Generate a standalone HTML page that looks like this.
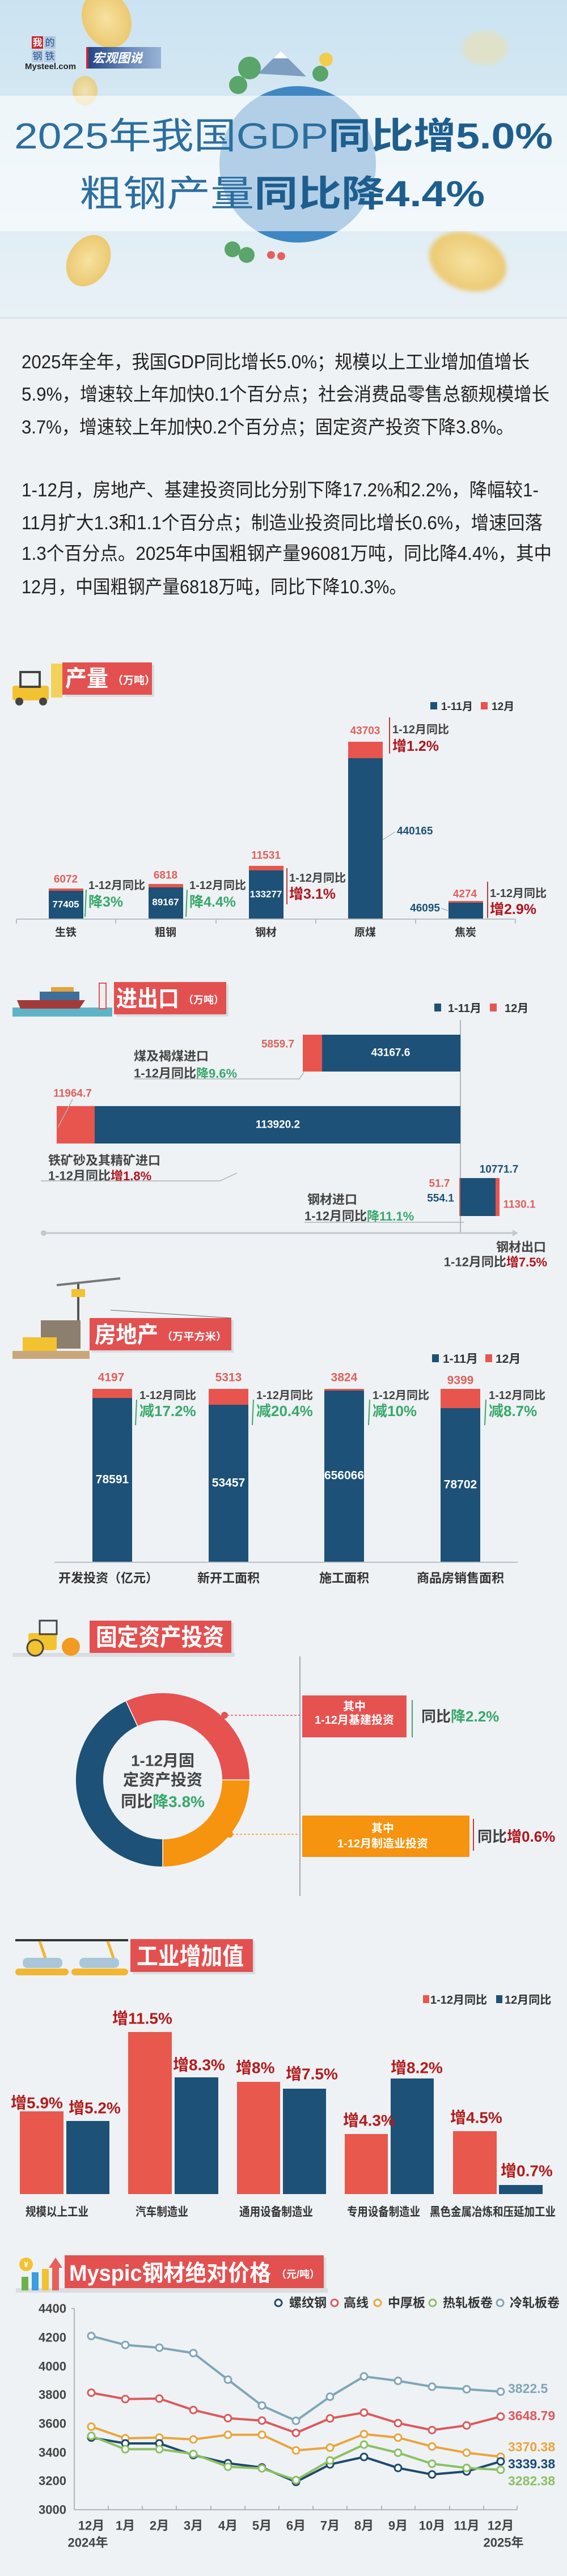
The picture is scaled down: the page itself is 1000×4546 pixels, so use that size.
<!DOCTYPE html>
<html><head><meta charset="utf-8">
<style>
html,body{margin:0;padding:0;background:#eef2f5;}
body{width:1000px;height:4546px;overflow:hidden;}
svg{display:block;font-family:"Liberation Sans","Noto Sans CJK SC",sans-serif;}
.b{font-weight:bold;}
</style></head><body>
<svg width="1000" height="4546" viewBox="0 0 1000 4546" xmlns="http://www.w3.org/2000/svg">
<defs>
<linearGradient id="sky" x1="0" y1="0" x2="0" y2="1">
<stop offset="0" stop-color="#cbe3f1"/><stop offset="1" stop-color="#e9f1f6"/></linearGradient>
<radialGradient id="coin" cx="0.5" cy="0.5" r="0.5">
<stop offset="0" stop-color="#f6e2a0"/><stop offset="1" stop-color="#ecc972"/></radialGradient>
<filter id="bl"><feGaussianBlur stdDeviation="4"/></filter>
<linearGradient id="badge" x1="0" y1="0" x2="1" y2="0"><stop offset="0" stop-color="#1d3f86"/><stop offset="1" stop-color="#5d7fb8" stop-opacity="0.5"/></linearGradient>
<marker id="m1" viewBox="-8 -8 16 16" markerWidth="16" markerHeight="16" markerUnits="userSpaceOnUse"><circle r="6" fill="#fff" stroke="#7fa6b8" stroke-width="3"/></marker>
<marker id="m2" viewBox="-8 -8 16 16" markerWidth="16" markerHeight="16" markerUnits="userSpaceOnUse"><circle r="6" fill="#fff" stroke="#dc5a5c" stroke-width="3"/></marker>
<marker id="m3" viewBox="-8 -8 16 16" markerWidth="16" markerHeight="16" markerUnits="userSpaceOnUse"><circle r="6" fill="#fff" stroke="#eaa53c" stroke-width="3"/></marker>
<marker id="m4" viewBox="-8 -8 16 16" markerWidth="16" markerHeight="16" markerUnits="userSpaceOnUse"><circle r="6" fill="#fff" stroke="#1c4a6e" stroke-width="3"/></marker>
<marker id="m5" viewBox="-8 -8 16 16" markerWidth="16" markerHeight="16" markerUnits="userSpaceOnUse"><circle r="6" fill="#fff" stroke="#8cc063" stroke-width="3"/></marker>
</defs>

<!-- HEADER -->
<rect x="0" y="0" width="1000" height="561" fill="url(#sky)"/>
<ellipse cx="188" cy="34" rx="42" ry="52" fill="url(#coin)" transform="rotate(-25 188 34)"/>
<ellipse cx="855" cy="85" rx="40" ry="30" fill="#eadfae" opacity="0.6" filter="url(#bl)"/>
<ellipse cx="150" cy="160" rx="22" ry="26" fill="url(#coin)" opacity="0.8"/>
<ellipse cx="156" cy="460" rx="36" ry="48" fill="url(#coin)" transform="rotate(30 156 460)"/>
<ellipse cx="825" cy="462" rx="70" ry="50" fill="url(#coin)" filter="url(#bl)" transform="rotate(20 825 462)"/>
<circle cx="525" cy="290" r="138" fill="#3f87c2"/>
<path d="M455 130 L495 90 L540 135 Z" fill="#7d9ec0"/>
<path d="M482 103 L495 90 L508 103 Z" fill="#fff"/>
<circle cx="440" cy="120" r="20" fill="#5aa56a"/><circle cx="420" cy="150" r="16" fill="#5aa56a"/>
<circle cx="565" cy="130" r="14" fill="#5aa56a"/><circle cx="575" cy="105" r="12" fill="#f1cd4a"/>
<circle cx="410" cy="440" r="14" fill="#5aa56a"/><circle cx="435" cy="450" r="14" fill="#5aa56a"/>
<circle cx="478" cy="450" r="7" fill="#e46060"/><circle cx="496" cy="452" r="7" fill="#e46060"/>
<rect x="0" y="169" width="1000" height="239" fill="#ffffff" opacity="0.6"/>
<rect x="56" y="64" width="20" height="22" fill="#c8282e"/><text x="66" y="81" font-size="17" fill="#fff" text-anchor="middle" class="b">我</text>
<rect x="78" y="64" width="20" height="22" fill="#2a4f8f" opacity="0.2"/><text x="88" y="81" font-size="17" fill="#2a4f8f" text-anchor="middle">的</text>
<rect x="56" y="88" width="20" height="22" fill="#2a4f8f" opacity="0.15"/><text x="66" y="105" font-size="17" fill="#2a4f8f" text-anchor="middle">钢</text>
<rect x="78" y="88" width="20" height="22" fill="#2a4f8f" opacity="0.15"/><text x="88" y="105" font-size="17" fill="#2a4f8f" text-anchor="middle">铁</text>
<text x="44" y="122" font-size="15" class="b" fill="#222">Mysteel.com</text>
<rect x="152" y="83" width="132" height="38" fill="url(#badge)"/>
<rect x="152" y="83" width="4" height="38" fill="#c8282e"/>
<text x="163" y="110" font-size="22" class="b" fill="#fff" font-style="italic">宏观图说</text>
<text x="25" y="262" font-size="64" textLength="950" lengthAdjust="spacingAndGlyphs" fill="#2c6e9f">2025年我国GDP<tspan class="b" fill="#1d5e8e">同比增5.0%</tspan></text>
<text x="140" y="364" font-size="64" textLength="715" lengthAdjust="spacingAndGlyphs" fill="#2c6e9f">粗钢产量<tspan class="b" fill="#1d5e8e">同比降4.4%</tspan></text>
<line x1="0" y1="561" x2="1000" y2="561" stroke="#d9dfe4" stroke-width="2"/>

<!-- TEXT -->
<g font-size="33" fill="#222" lengthAdjust="spacingAndGlyphs">
<text x="38" y="650" textLength="896" lengthAdjust="spacingAndGlyphs">2025年全年，我国GDP同比增长5.0%；规模以上工业增加值增长</text>
<text x="38" y="707" textLength="931" lengthAdjust="spacingAndGlyphs">5.9%，增速较上年加快0.1个百分点；社会消费品零售总额规模增长</text>
<text x="38" y="765" textLength="868" lengthAdjust="spacingAndGlyphs">3.7%，增速较上年加快0.2个百分点；固定资产投资下降3.8%。</text>
<text x="38" y="876" textLength="912" lengthAdjust="spacingAndGlyphs">1-12月，房地产、基建投资同比分别下降17.2%和2.2%，降幅较1-</text>
<text x="38" y="934" textLength="919" lengthAdjust="spacingAndGlyphs">11月扩大1.3和1.1个百分点；制造业投资同比增长0.6%，增速回落</text>
<text x="38" y="988" textLength="935" lengthAdjust="spacingAndGlyphs">1.3个百分点。2025年中国粗钢产量96081万吨，同比降4.4%，其中</text>
<text x="38" y="1047" textLength="679" lengthAdjust="spacingAndGlyphs">12月，中国粗钢产量6818万吨，同比下降10.3%。</text>
</g>

<!-- PRODUCTION -->
<rect x="114" y="1173" width="158" height="57" fill="#d8dde1"/>
<rect x="110" y="1169" width="158" height="57" fill="#e35050"/>
<rect x="90" y="1171" width="20" height="60" fill="#f2d25a"/>
<rect x="22" y="1210" width="64" height="26" fill="#f2c230" rx="4"/>
<rect x="36" y="1186" width="34" height="26" fill="none" stroke="#444" stroke-width="4"/>
<circle cx="34" cy="1238" r="7" fill="#444"/><circle cx="76" cy="1238" r="7" fill="#444"/>
<text x="115" y="1211" font-size="40" class="b" fill="#fff" textLength="76" lengthAdjust="spacingAndGlyphs">产量</text>
<text x="198" y="1207" font-size="19" class="b" fill="#fff">（万吨）</text>
<rect x="759" y="1239" width="12" height="13" fill="#1d5177"/>
<text x="778" y="1253" font-size="19" class="b" fill="#333">1-11月</text>
<rect x="848" y="1239" width="12" height="13" fill="#e8554e"/>
<text x="867" y="1253" font-size="19" class="b" fill="#333">12月</text>
<g fill="#1d5177">
<rect x="86" y="1572" width="61" height="50"/><rect x="262" y="1566" width="61" height="56"/>
<rect x="439" y="1536" width="61" height="86"/><rect x="614" y="1338" width="61" height="284"/>
<rect x="791" y="1593" width="61" height="29"/></g>
<g fill="#e8554e">
<rect x="86" y="1568" width="61" height="4"/><rect x="262" y="1560" width="61" height="6"/>
<rect x="439" y="1528" width="61" height="8"/><rect x="614" y="1309" width="61" height="29"/>
<rect x="791" y="1590" width="61" height="3"/></g>
<line x1="29" y1="1622" x2="909" y2="1622" stroke="#b8bfc5" stroke-width="2"/>
<g stroke="#b8bfc5" stroke-width="2"><line x1="29" y1="1622" x2="29" y2="1630"/><line x1="204" y1="1622" x2="204" y2="1630"/><line x1="381" y1="1622" x2="381" y2="1630"/><line x1="557" y1="1622" x2="557" y2="1630"/><line x1="733" y1="1622" x2="733" y2="1630"/><line x1="909" y1="1622" x2="909" y2="1630"/></g>
<g font-size="19" class="b" fill="#333" text-anchor="middle" dominant-baseline="central">
<text x="116" y="1646">生铁</text><text x="292" y="1646">粗钢</text><text x="469" y="1646">钢材</text><text x="644" y="1646">原煤</text><text x="821" y="1646">焦炭</text></g>
<g font-size="19" class="b" fill="#e0605a" text-anchor="middle" dominant-baseline="central">
<text x="116" y="1552">6072</text><text x="292" y="1545">6818</text><text x="469" y="1510">11531</text><text x="644" y="1290">43703</text><text x="820" y="1578">4274</text></g>
<g font-size="17" class="b" fill="#fff" text-anchor="middle" dominant-baseline="central">
<text x="116" y="1596">77405</text><text x="292" y="1592">89167</text><text x="469" y="1578">133277</text></g>
<g font-size="19" class="b" fill="#1d5177" dominant-baseline="central">
<text x="700" y="1467">440165</text><text x="776" y="1603" text-anchor="end">46095</text></g>
<line x1="675" y1="1482" x2="697" y2="1468" stroke="#999"/><line x1="778" y1="1603" x2="790" y2="1607" stroke="#999"/>
<g font-size="20" class="b" fill="#444" dominant-baseline="central">
<text x="156" y="1563">1-12月同比</text><text x="334" y="1563">1-12月同比</text><text x="510" y="1550">1-12月同比</text><text x="692" y="1288">1-12月同比</text><text x="864" y="1577">1-12月同比</text></g>
<g font-size="25" class="b" dominant-baseline="central">
<text x="156" y="1592" fill="#38a86a">降3%</text><text x="334" y="1592" fill="#38a86a">降4.4%</text>
<text x="510" y="1578" fill="#b0141c">增3.1%</text><text x="692" y="1317" fill="#b0141c">增1.2%</text><text x="864" y="1605" fill="#b0141c">增2.9%</text></g>
<g stroke-width="2"><line x1="152" y1="1570" x2="150" y2="1618" stroke="#38a86a"/><line x1="330" y1="1570" x2="328" y2="1618" stroke="#38a86a"/>
<line x1="506" y1="1596" x2="506" y2="1532" stroke="#c0393b"/><line x1="687" y1="1330" x2="687" y2="1266" stroke="#c0393b"/><line x1="860" y1="1620" x2="860" y2="1556" stroke="#c0393b"/></g>

<!-- IMPORT/EXPORT -->
<rect x="205" y="1737" width="198" height="57" fill="#d8dde1"/>
<rect x="201" y="1733" width="198" height="57" fill="#e35050"/>
<rect x="22" y="1778" width="176" height="16" fill="#5fb3c9"/>
<path d="M30 1765 L150 1765 L140 1780 L36 1780 Z" fill="#a33a3a"/>
<rect x="70" y="1750" width="70" height="15" fill="#3d6f99"/><rect x="90" y="1742" width="40" height="8" fill="#e6a23c"/>
<rect x="175" y="1735" width="12" height="45" fill="#eee" stroke="#d55" stroke-width="2"/>
<text x="205" y="1776" font-size="40" class="b" fill="#fff" textLength="111" lengthAdjust="spacingAndGlyphs">进出口</text>
<text x="323" y="1771" font-size="18" class="b" fill="#fff">（万吨）</text>
<rect x="766" y="1771" width="12" height="14" fill="#1d5177"/>
<text x="790" y="1786" font-size="20" class="b" fill="#333">1-11月</text>
<rect x="864" y="1771" width="12" height="14" fill="#e8554e"/>
<text x="890" y="1786" font-size="20" class="b" fill="#333">12月</text>
<line x1="812" y1="1800" x2="812" y2="2176" stroke="#9aa3aa" stroke-width="1.5"/>
<rect x="534" y="1826" width="34" height="65" fill="#e8554e"/><rect x="568" y="1826" width="244" height="65" fill="#1d5177"/>
<rect x="100" y="1952" width="67" height="66" fill="#e8554e"/><rect x="167" y="1952" width="645" height="66" fill="#1d5177"/>
<rect x="812" y="2079" width="62" height="67" fill="#1d5177"/><rect x="874" y="2079" width="7" height="67" fill="#e8554e"/><rect x="810" y="2079" width="2" height="67" fill="#e8554e"/>
<g font-size="19" class="b" text-anchor="middle" dominant-baseline="central">
<text x="689" y="1858" fill="#fff">43167.6</text><text x="490" y="1985" fill="#fff">113920.2</text>
<text x="490" y="1843" fill="#e0605a">5859.7</text><text x="128" y="1930" fill="#e0605a">11964.7</text>
<text x="880" y="2064" fill="#1d5177">10771.7</text><text x="775" y="2089" fill="#e0605a">51.7</text>
<text x="777" y="2115" fill="#1d5177">554.1</text><text x="916" y="2126" fill="#e0605a">1130.1</text></g>
<g font-size="22" class="b" fill="#444" dominant-baseline="central">
<text x="236" y="1864">煤及褐煤进口</text><text x="236" y="1894">1-12月同比<tspan fill="#38a86a">降9.6%</tspan></text>
<text x="85" y="2048">铁矿砂及其精矿进口</text><text x="85" y="2075">1-12月同比<tspan fill="#b0141c">增1.8%</tspan></text>
<text x="542" y="2117">钢材进口</text><text x="537" y="2146">1-12月同比<tspan fill="#38a86a">降11.1%</tspan></text>
<text x="963" y="2201" text-anchor="end">钢材出口</text><text x="965" y="2227" text-anchor="end">1-12月同比<tspan fill="#b0141c">增7.5%</tspan></text></g>
<g stroke="#aab1b7" stroke-width="1.5" fill="none">
<polyline points="236,1904 528,1904 536,1892"/><polyline points="72,2084 388,2084 418,2070"/><polyline points="537,2157 818,2157"/>
<polyline points="128,1940 102,1990"/></g>
<line x1="77" y1="2176" x2="908" y2="2176" stroke="#c2c8cd" stroke-width="3"/>
<circle cx="77" cy="2176" r="5" fill="#c2c8cd"/><path d="M904 2170 L914 2176 L904 2182 Z" fill="#c2c8cd"/>

<!-- REAL ESTATE -->
<rect x="162" y="2330" width="250" height="57" fill="#d8dde1"/>
<rect x="158" y="2326" width="250" height="57" fill="#e35050"/>
<line x1="138" y1="2262" x2="138" y2="2350" stroke="#555" stroke-width="4"/>
<line x1="100" y1="2268" x2="212" y2="2256" stroke="#777" stroke-width="4"/>
<rect x="126" y="2275" width="24" height="14" fill="#f2c230"/>
<line x1="195" y1="2312" x2="408" y2="2326" stroke="#666"/>
<rect x="72" y="2330" width="70" height="50" fill="#8c7f6e"/>
<rect x="40" y="2360" width="60" height="25" fill="#f2c230"/>
<rect x="22" y="2384" width="136" height="14" fill="#c9a77a"/>
<text x="167" y="2369" font-size="40" class="b" fill="#fff" textLength="112" lengthAdjust="spacingAndGlyphs">房地产</text>
<text x="285" y="2365" font-size="18" class="b" fill="#fff" textLength="115" lengthAdjust="spacingAndGlyphs">（万平方米）</text>
<rect x="762" y="2390" width="12" height="14" fill="#1d5177"/>
<text x="781" y="2405" font-size="21" class="b" fill="#333">1-11月</text>
<rect x="856" y="2390" width="12" height="14" fill="#e8554e"/>
<text x="874" y="2405" font-size="21" class="b" fill="#333">12月</text>
<g fill="#1d5177"><rect x="163" y="2467" width="70" height="290"/><rect x="368" y="2479" width="70" height="278"/><rect x="572" y="2454" width="70" height="303"/><rect x="777" y="2485" width="70" height="272"/></g>
<g fill="#e8554e"><rect x="163" y="2451" width="70" height="16"/><rect x="368" y="2451" width="70" height="28"/><rect x="572" y="2451" width="70" height="3"/><rect x="777" y="2451" width="70" height="34"/></g>
<line x1="96" y1="2757" x2="913" y2="2757" stroke="#b8bfc5" stroke-width="2"/>
<g font-size="21" class="b" fill="#e0605a" text-anchor="middle" dominant-baseline="central">
<text x="196" y="2431">4197</text><text x="403" y="2431">5313</text><text x="607" y="2431">3824</text><text x="812" y="2436">9399</text></g>
<g font-size="21" class="b" fill="#fff" text-anchor="middle" dominant-baseline="central">
<text x="198" y="2611">78591</text><text x="403" y="2617">53457</text><text x="607" y="2604">656066</text><text x="812" y="2620">78702</text></g>
<g font-size="20" class="b" fill="#444" dominant-baseline="central">
<text x="246" y="2463">1-12月同比</text><text x="452" y="2463">1-12月同比</text><text x="657" y="2463">1-12月同比</text><text x="862" y="2463">1-12月同比</text></g>
<g font-size="26" class="b" fill="#38a86a" dominant-baseline="central">
<text x="246" y="2490">减17.2%</text><text x="452" y="2490">减20.4%</text><text x="657" y="2490">减10%</text><text x="862" y="2490">减8.7%</text></g>
<g stroke="#38a86a" stroke-width="2"><line x1="241" y1="2470" x2="239" y2="2515"/><line x1="447" y1="2470" x2="445" y2="2515"/><line x1="652" y1="2470" x2="650" y2="2515"/><line x1="857" y1="2470" x2="855" y2="2515"/></g>
<g font-size="22" class="b" fill="#333" text-anchor="middle" dominant-baseline="central">
<text x="191" y="2785">开发投资（亿元）</text><text x="403" y="2785">新开工面积</text><text x="607" y="2785">施工面积</text><text x="812" y="2785">商品房销售面积</text></g>

<!-- FIXED ASSETS -->
<rect x="22" y="2917" width="392" height="7" fill="#d8dde1"/>
<rect x="162" y="2864" width="250" height="57" fill="#d8dde1"/>
<rect x="158" y="2860" width="250" height="57" fill="#e35050"/>
<rect x="50" y="2882" width="50" height="30" fill="#f2c230" rx="4"/>
<circle cx="62" cy="2908" r="14" fill="#f2c230" stroke="#444" stroke-width="3"/>
<circle cx="125" cy="2906" r="16" fill="#f29b20"/>
<rect x="70" y="2860" width="30" height="24" fill="none" stroke="#444" stroke-width="3"/>
<text x="169" y="2904" font-size="42" class="b" fill="#fff" textLength="226" lengthAdjust="spacingAndGlyphs">固定资产投资</text>
<line x1="529" y1="2923" x2="529" y2="3346" stroke="#8a9299" stroke-width="1.5"/>
<path d="M222.3,3002.3 A153,153 0 0 1 440,3141 L392,3141 A105,105 0 0 0 242.6,3045.8 Z" fill="#e65250"/>
<path d="M440,3141 A153,153 0 0 1 287,3294 L287,3246 A105,105 0 0 0 392,3141 Z" fill="#f6930f"/>
<path d="M287,3294 A153,153 0 0 1 222.3,3002.3 L242.6,3045.8 A105,105 0 0 0 287,3246 Z" fill="#1d5177"/>
<g stroke="#fff" stroke-width="1.5"><line x1="222.3" y1="3002.3" x2="242.6" y2="3045.8"/><line x1="440" y1="3141" x2="392" y2="3141"/><line x1="287" y1="3294" x2="287" y2="3246"/></g>
<g font-size="28" class="b" fill="#444" text-anchor="middle" dominant-baseline="central">
<text x="287" y="3107">1-12月固</text><text x="287" y="3141">定资产投资</text><text x="287" y="3179">同比<tspan fill="#38a86a">降3.8%</tspan></text></g>
<circle cx="396" cy="3027" r="6" fill="#e65250"/><circle cx="405" cy="3237" r="6" fill="#f6930f"/>
<line x1="400" y1="3027" x2="529" y2="3027" stroke="#e65250" stroke-width="1.5" stroke-dasharray="4 3"/>
<line x1="409" y1="3237" x2="529" y2="3237" stroke="#f6930f" stroke-width="1.5" stroke-dasharray="4 3"/>
<rect x="533" y="2992" width="184" height="74" fill="#e65250"/>
<rect x="533" y="3204" width="295" height="73" fill="#f6930f"/>
<g font-size="20" class="b" fill="#fff" text-anchor="middle" dominant-baseline="central">
<text x="625" y="3012">其中</text><text x="625" y="3036">1-12月基建投资</text>
<text x="675" y="3227">其中</text><text x="675" y="3254">1-12月制造业投资</text></g>
<g font-size="26" class="b" fill="#444" dominant-baseline="central">
<text x="743" y="3029">同比<tspan fill="#38a86a">降2.2%</tspan></text><text x="842" y="3241">同比<tspan fill="#b0141c">增0.6%</tspan></text></g>
<line x1="727" y1="3000" x2="727" y2="3066" stroke="#38a86a" stroke-width="2"/>
<line x1="835" y1="3266" x2="835" y2="3210" stroke="#c0393b" stroke-width="2"/>

<!-- INDUSTRY -->
<rect x="234" y="3426" width="216" height="58" fill="#d8dde1"/>
<rect x="230" y="3422" width="216" height="58" fill="#e35050"/>
<line x1="27" y1="3424" x2="226" y2="3424" stroke="#333" stroke-width="4"/>
<rect x="27" y="3474" width="94" height="12" rx="6" fill="#f2b630"/><rect x="126" y="3474" width="100" height="12" rx="6" fill="#f2b630"/>
<rect x="40" y="3455" width="70" height="18" rx="8" fill="#a9c7d8"/><rect x="140" y="3455" width="70" height="18" rx="8" fill="#a9c7d8"/>
<line x1="70" y1="3426" x2="80" y2="3455" stroke="#f2b630" stroke-width="5"/><line x1="190" y1="3426" x2="200" y2="3455" stroke="#f2b630" stroke-width="5"/>
<text x="241" y="3467" font-size="42" class="b" fill="#fff" textLength="189" lengthAdjust="spacingAndGlyphs">工业增加值</text>
<rect x="746" y="3521" width="11" height="14" fill="#e8584c"/>
<text x="759" y="3536" font-size="20" class="b" fill="#333">1-12月同比</text>
<rect x="875" y="3521" width="11" height="14" fill="#1d5177"/>
<text x="890" y="3536" font-size="20" class="b" fill="#333">12月同比</text>
<g fill="#e8584c">
<rect x="35" y="3726" width="77" height="146"/><rect x="226" y="3586" width="77" height="286"/><rect x="418" y="3674" width="76" height="198"/><rect x="608" y="3766" width="76" height="106"/><rect x="799" y="3761" width="77" height="111"/></g>
<g fill="#1d5177">
<rect x="117" y="3743" width="76" height="129"/><rect x="308" y="3666" width="77" height="206"/><rect x="499" y="3686" width="76" height="186"/><rect x="689" y="3668" width="76" height="204"/><rect x="880" y="3856" width="77" height="16"/></g>
<g font-size="28" class="b" fill="#b31b1b" dominant-baseline="central">
<text x="19" y="3711">增5.9%</text><text x="121" y="3720">增5.2%</text><text x="198" y="3562">增11.5%</text><text x="305" y="3644">增8.3%</text>
<text x="416" y="3649">增8%</text><text x="504" y="3660">增7.5%</text><text x="605" y="3742">增4.3%</text><text x="689" y="3649">增8.2%</text>
<text x="794" y="3737">增4.5%</text><text x="883" y="3831">增0.7%</text></g>
<g font-size="21" class="b" fill="#333" dominant-baseline="central">
<text x="45" y="3904" textLength="111" lengthAdjust="spacingAndGlyphs">规模以上工业</text>
<text x="239" y="3904" textLength="93" lengthAdjust="spacingAndGlyphs">汽车制造业</text>
<text x="422" y="3904" textLength="130" lengthAdjust="spacingAndGlyphs">通用设备制造业</text>
<text x="612" y="3904" textLength="129" lengthAdjust="spacingAndGlyphs">专用设备制造业</text>
<text x="758" y="3904" textLength="222" lengthAdjust="spacingAndGlyphs">黑色金属冶炼和压延加工业</text></g>

<!-- PRICE CHART -->
<g transform="translate(0,3900)">
<rect x="28" y="138" width="550" height="8" fill="#d8dde1"/>
<rect x="118" y="84" width="457" height="58" fill="#d8dde1"/>
<rect x="114" y="80" width="457" height="58" fill="#e35050"/>
<rect x="38" y="118" width="12" height="24" fill="#6cb24a"/><rect x="56" y="110" width="12" height="32" fill="#3a9ee0"/><rect x="74" y="104" width="12" height="38" fill="#f2c230"/>
<rect x="92" y="100" width="12" height="42" fill="#e8605a"/><path d="M86 102 L98 84 L110 102 Z" fill="#e8605a"/>
<circle cx="46" cy="96" r="12" fill="#f2c230"/><text x="46" y="101" font-size="14" text-anchor="middle" fill="#fff" class="b">¥</text>
<text x="122" y="125" font-size="40" class="b" fill="#fff" textLength="356" lengthAdjust="spacingAndGlyphs">Myspic钢材绝对价格</text>
<text x="487" y="120" font-size="18" class="b" fill="#fff">（元/吨）</text>
<g font-size="22" class="b" fill="#333" dominant-baseline="central">
<circle cx="491" cy="164" r="6" fill="#fff" stroke="#1c4a6e" stroke-width="3"/><text x="510" y="164">螺纹钢</text>
<circle cx="590" cy="164" r="6" fill="#fff" stroke="#dc5a5c" stroke-width="3"/><text x="606" y="164">高线</text>
<circle cx="666" cy="164" r="6" fill="#fff" stroke="#eaa53c" stroke-width="3"/><text x="684" y="164">中厚板</text>
<circle cx="763" cy="164" r="6" fill="#fff" stroke="#8cc063" stroke-width="3"/><text x="781" y="164">热轧板卷</text>
<circle cx="882" cy="164" r="6" fill="#fff" stroke="#7fa6b8" stroke-width="3"/><text x="899" y="164">冷轧板卷</text></g>
<g font-size="22" class="b" fill="#444" text-anchor="end" dominant-baseline="central">
<text x="117" y="174">4400</text><text x="117" y="225">4200</text><text x="117" y="276">4000</text><text x="117" y="326">3800</text>
<text x="117" y="377">3600</text><text x="117" y="428">3400</text><text x="117" y="478">3200</text><text x="117" y="529">3000</text></g>
<line x1="131" y1="174" x2="131" y2="529" stroke="#9aa3aa" stroke-width="1.5"/>
<line x1="131" y1="529" x2="912" y2="529" stroke="#9aa3aa" stroke-width="1.5"/>
<g stroke="#9aa3aa" stroke-width="1.5"><line x1="126" y1="174" x2="131" y2="174"/><line x1="191" y1="522" x2="191" y2="529"/><line x1="251" y1="522" x2="251" y2="529"/><line x1="311" y1="522" x2="311" y2="529"/><line x1="372" y1="522" x2="372" y2="529"/><line x1="432" y1="522" x2="432" y2="529"/><line x1="492" y1="522" x2="492" y2="529"/><line x1="552" y1="522" x2="552" y2="529"/><line x1="612" y1="522" x2="612" y2="529"/><line x1="673" y1="522" x2="673" y2="529"/><line x1="732" y1="522" x2="732" y2="529"/><line x1="793" y1="522" x2="793" y2="529"/><line x1="853" y1="522" x2="853" y2="529"/><line x1="912" y1="522" x2="912" y2="529"/></g>
<g font-size="22" class="b" fill="#444" text-anchor="middle" dominant-baseline="central">
<text x="161" y="557">12月</text><text x="221" y="557">1月</text><text x="281" y="557">2月</text><text x="341" y="557">3月</text><text x="402" y="557">4月</text><text x="462" y="557">5月</text><text x="522" y="557">6月</text><text x="582" y="557">7月</text><text x="642" y="557">8月</text><text x="702" y="557">9月</text><text x="762" y="557">10月</text><text x="823" y="557">11月</text><text x="883" y="557">12月</text>
<text x="155" y="587">2024年</text><text x="888" y="587">2025年</text></g>
<g fill="none" stroke-width="4" stroke-linejoin="round">
<polyline stroke="#7fa6b8" marker-start="url(#m1)" marker-mid="url(#m1)" marker-end="url(#m1)" points="161,222.5 221,238.2 281,243.1 341,252.6 402,299.5 462,345.3 522,372.1 582,329.6 642,293.8 702,301.6 762,311.9 823,316.4 883,320.6"/>
<polyline stroke="#dc5a5c" marker-start="url(#m2)" marker-mid="url(#m2)" marker-end="url(#m2)" points="161,322.6 221,333.7 281,332.9 341,353.1 402,367.5 462,371.7 522,393.5 582,367.9 642,357.6 702,376.2 762,388.5 823,380.3 883,364.6"/>
<polyline stroke="#eaa53c" marker-start="url(#m3)" marker-mid="url(#m3)" marker-end="url(#m3)" points="161,382.4 221,403 281,401.7 341,405 402,396.8 462,396.8 522,424.4 582,419.4 642,395.6 702,401.7 762,417.4 823,428.5 883,435.5"/>
<polyline stroke="#1c4a6e" marker-start="url(#m4)" marker-mid="url(#m4)" marker-end="url(#m4)" points="161,401.7 221,412 281,412 341,432.6 402,447 462,454.5 522,480 582,449.1 642,435.9 702,455.3 762,466.8 823,461.5 883,443.8"/>
<polyline stroke="#8cc063" marker-start="url(#m5)" marker-mid="url(#m5)" marker-end="url(#m5)" points="161,398.8 221,422.3 281,422.3 341,430.6 402,453.2 462,456.1 522,476.7 582,442.1 642,414.1 702,428.5 762,447.9 823,455.3 883,458.6"/>
</g>
<g font-size="23" class="b" dominant-baseline="central">
<text x="896" y="315" fill="#7fa6b8">3822.5</text><text x="896" y="363" fill="#dc5a5c">3648.79</text>
<text x="896" y="418" fill="#eaa53c">3370.38</text><text x="896" y="448" fill="#1c4a6e">3339.38</text><text x="896" y="478" fill="#8cc063">3282.38</text></g>
</g>
</svg>
</body></html>
